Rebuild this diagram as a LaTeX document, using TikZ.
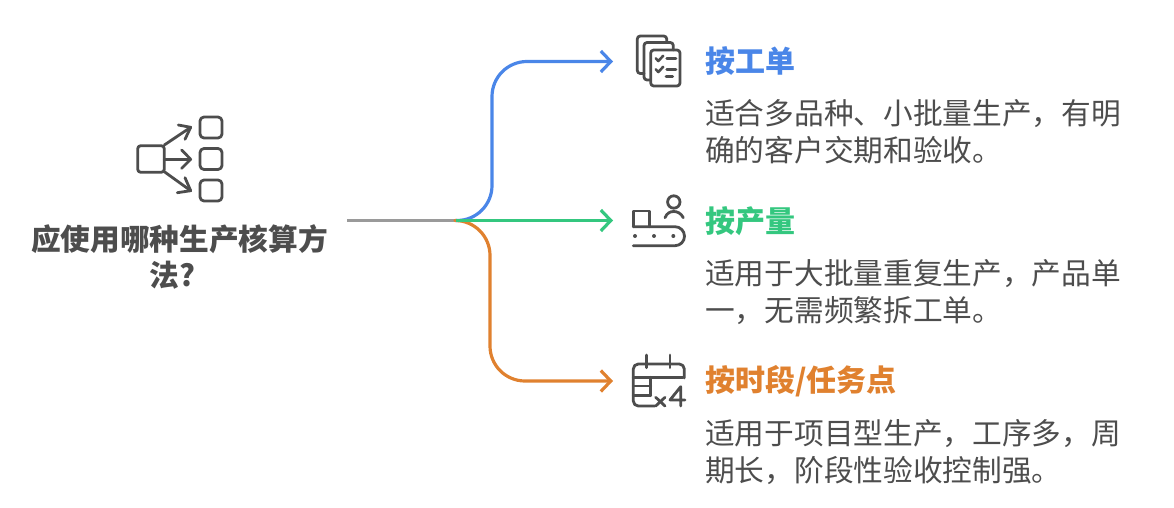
\documentclass[tikz,border=0pt]{standalone}
\usepackage{fontspec}
\setmainfont{Noto Sans CJK SC}
\usetikzlibrary{arrows.meta}

\definecolor{lineblue}{HTML}{4A86E8}
\definecolor{linegreen}{HTML}{34C77F}
\definecolor{lineorange}{HTML}{E0812F}
\definecolor{linegray}{HTML}{9A9A9A}
\definecolor{inkgray}{HTML}{4D4D4D}

\newcommand{\zhcomma}{\symbol{"FF0C}}

\tikzset{
  branch/.style={line width=3.2pt,-{Straight Barb[length=10pt,width=21pt,line width=3.2pt]},rounded corners=35pt},
  icon/.style={draw=inkgray,line width=2.8pt,line cap=round,line join=round},
  head/.style={anchor=west,inner sep=0pt,font=\fontsize{30}{36}\selectfont\bfseries},
  body/.style={anchor=west,align=left,inner sep=0pt,text=inkgray,font=\fontsize{29.7}{36.5}\selectfont},
}

\begin{document}
\begin{tikzpicture}[x=1pt,y=-1pt,line join=round]
\useasboundingbox (0,0) rectangle (1174,508);

% ===== 连接线 =====
\def\xa{492}  % 上分支竖线
\def\xb{490}  % 下分支竖线
\coordinate (root) at (347,220.5);
\coordinate (hub) at (456,220.5);
\coordinate (endone) at (613,61.5);
\coordinate (endtwo) at (613,220.5);
\coordinate (endthree) at (613,381);

\draw[linegray,line width=3.2pt] (root) -- (hub);
\draw[branch,lineblue] (hub) -- (\xa,220.5) -- (\xa,61.5) -- (endone);
\draw[branch,lineorange] (hub) -- (\xb,220.5) -- (\xb,381) -- (endthree);
\draw[branch,linegreen] (hub) -- (endtwo);

% ===== 左侧图标 =====
\draw[icon,rounded corners=3pt] (137.7,145.7) rectangle (164.3,172.3);
\draw[icon,rounded corners=4pt] (200,117) rectangle (222,138);
\draw[icon,rounded corners=4pt] (200,148.5) rectangle (222,169.5);
\draw[icon,rounded corners=4pt] (200,180) rectangle (222,201);
\draw[icon] (164.3,145) -- (190.7,127.3);
\draw[icon] (178.3,125) -- (190.7,127.3) -- (185,139.3);
\draw[icon] (164.3,159.3) -- (190.7,159.3);
\draw[icon] (181.7,150) -- (190.7,159.3) -- (181.7,168.3);
\draw[icon] (164.3,171.7) -- (190.7,190.7);
\draw[icon] (185,177.7) -- (190.7,190.7) -- (177.3,192.7);

\node[align=center,inner sep=0pt,text=inkgray,font=\fontsize{29.7}{36}\selectfont\bfseries] (title) at (179.5,257)
  {应使用哪种生产核算方\\法?\hspace*{14pt}};

% ===== 图标一:单据 =====
\draw[icon,rounded corners=3pt] (650.7,50) rectangle (680,86);
\draw[icon,rounded corners=3pt] (650,80) -- (644,80) -- (644,42.5) -- (673.3,42.5) -- (673.3,50);
\draw[icon,rounded corners=3pt] (644,73.5) -- (637.3,73.5) -- (637.3,36) -- (666.7,36) -- (666.7,42.5);
\draw[icon,line width=2.6pt] (655.7,58.3) -- (658.3,61) -- (663.3,55.7);
\draw[icon,line width=2.6pt] (655.7,69.3) -- (658.3,72) -- (663.3,66.7);
\draw[icon,line width=2.6pt] (666.7,58.3) -- (676,58.3);
\draw[icon,line width=2.6pt] (666.7,69.3) -- (676,69.3);
\draw[icon,line width=2.6pt] (666,76.7) -- (672.7,76.7);

% ===== 图标二:传送带 =====
\draw[icon] (673.8,202) circle (6.2);
\draw[icon] (665,217.7) .. controls (667,213) and (670,211.5) .. (673.8,211.5)
  .. controls (677,211.5) and (681,213) .. (683.3,217.7);
\draw[icon] (633.3,226.7) -- (633.3,211) -- (649.3,211) -- (649.3,226.7);
\draw[icon] (633.3,226.7) -- (675,226.7) arc (-90:90:9.5) -- (633.3,245.7);
\fill[inkgray] (635,236) circle (2) (654,236) circle (2) (673.3,236) circle (2);

% ===== 图标三:日历 =====
\draw[icon,rounded corners=5pt] (655,406) -- (633.3,406) -- (633.3,364) -- (684.3,364) -- (684.3,378);
\draw[icon] (646.7,355) -- (646.7,367.7);
\draw[icon] (670,355) -- (670,367.7);
\draw[icon] (633.3,377.3) -- (683,377.3);
\draw[icon] (633.3,386) -- (650.7,386);
\draw[icon] (633.3,395.7) -- (650.7,395.7);
\draw[icon] (650.7,377.3) -- (650.7,395.7);
\draw[icon] (655.7,397.3) -- (665,406);
\draw[icon] (665,397.3) -- (655.7,406);
\draw[icon] (680.7,406) -- (680.7,386.7) -- (670,400) -- (685,400);

% ===== 文字 =====
\node[head,text=lineblue] (headone) at (705,61) {按工单};
\node[body] (bodyone) at (705,132) {适合多品种、小批量生产\zhcomma 有明\\确的客户交期和验收。};
\node[head,text=linegreen] (headtwo) at (705,221) {按产量};
\node[body] (bodytwo) at (705,292) {适用于大批量重复生产\zhcomma 产品单\\一\zhcomma 无需频繁拆工单。};
\node[head,text=lineorange] (headthree) at (705,381) {按时段/任务点};
\node[body] (bodythree) at (705,452) {适用于项目型生产\zhcomma 工序多\zhcomma 周\\期长\zhcomma 阶段性验收控制强。};

\end{tikzpicture}
\end{document}
